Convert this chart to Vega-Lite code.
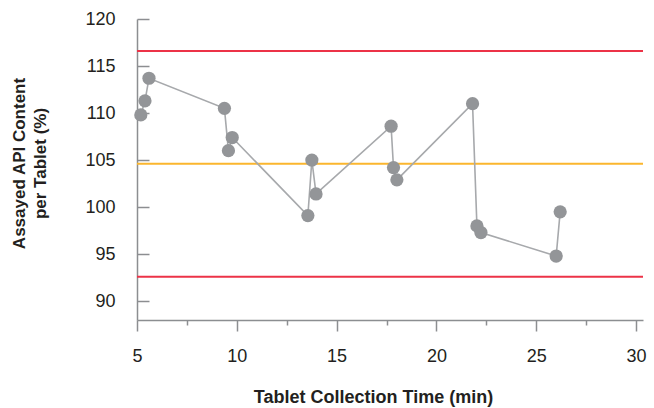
{
  "$schema": "https://vega.github.io/schema/vega-lite/v6.json",
  "width": 506,
  "height": 301,
  "autosize": "none",
  "padding": {"left": 137, "top": 19, "right": 11, "bottom": 88},
  "config": {
    "view": {"stroke": null},
    "font": "Liberation Sans",
    "axis": {
      "grid": false,
      "domainColor": "#8c8e91",
      "domainWidth": 1.5,
      "tickColor": "#8c8e91",
      "tickWidth": 1.5,
      "labelFont": "Liberation Sans",
      "labelFontSize": 18,
      "labelColor": "#231f20",
      "titleFont": "Liberation Sans",
      "titleFontWeight": "bold",
      "titleColor": "#231f20"
    }
  },
  "datasets": {
    "samples": [
      {"t": 5.19, "api": 109.8},
      {"t": 5.40, "api": 111.3},
      {"t": 5.60, "api": 113.7},
      {"t": 9.38, "api": 110.5},
      {"t": 9.58, "api": 106.0},
      {"t": 9.77, "api": 107.4},
      {"t": 13.56, "api": 99.1},
      {"t": 13.76, "api": 105.0},
      {"t": 13.97, "api": 101.4},
      {"t": 17.73, "api": 108.6},
      {"t": 17.85, "api": 104.2},
      {"t": 18.02, "api": 102.9},
      {"t": 21.81, "api": 111.0},
      {"t": 22.03, "api": 98.0},
      {"t": 22.23, "api": 97.3},
      {"t": 26.00, "api": 94.8},
      {"t": 26.20, "api": 99.5}
    ],
    "limits": [
      {"kind": "UCL", "value": 116.6},
      {"kind": "Mean", "value": 104.6},
      {"kind": "LCL", "value": 92.6}
    ]
  },
  "layer": [
    {
      "data": {"name": "limits"},
      "mark": {"type": "rule", "strokeWidth": 2},
      "encoding": {
        "y": {"field": "value", "type": "quantitative"},
        "color": {
          "field": "kind",
          "type": "nominal",
          "scale": {"domain": ["UCL", "Mean", "LCL"], "range": ["#ec3347", "#fbb62e", "#ec3347"]},
          "legend": null
        }
      }
    },
    {
      "data": {"name": "samples"},
      "mark": {"type": "line", "color": "#a7a9ac", "strokeWidth": 1.6},
      "encoding": {
        "x": {
          "field": "t",
          "type": "quantitative",
          "scale": {"domain": [5, 30.35], "nice": false, "zero": false},
          "axis": {
            "values": [5, 7.5, 10, 12.5, 15, 17.5, 20, 22.5, 25, 27.5, 30],
            "labelExpr": "datum.value % 5 === 0 ? datum.label : ''",
            "tickSize": {"condition": {"test": "datum.value % 5 === 0", "value": 11}, "value": 5},
            "labelPadding": 16,
            "labelFlush": false,
            "title": "Tablet Collection Time (min)",
            "titleFontSize": 18,
            "titleX": 236,
            "titleY": 77,
            "titleBaseline": "middle",
            "titleAnchor": null
          }
        },
        "y": {
          "field": "api",
          "type": "quantitative",
          "scale": {"domain": [88, 120], "nice": false, "zero": false},
          "axis": {
            "values": [90, 92.5, 95, 97.5, 100, 102.5, 105, 107.5, 110, 112.5, 115, 117.5, 120],
            "labelExpr": "datum.value % 5 === 0 ? datum.label : ''",
            "tickSize": {"condition": {"test": "datum.value % 5 === 0", "value": -12}, "value": -7},
            "labelPadding": 34,
            "labelFlush": false,
            "title": ["Assayed API Content", "per Tablet (%)"],
            "titleFontSize": 17,
            "titleLineHeight": 21,
            "titleX": -118,
            "titleY": 144,
            "titleAlign": "center",
            "titleBaseline": "middle",
            "titleAngle": -90
          }
        },
        "order": {"field": "t", "type": "quantitative"}
      }
    },
    {
      "data": {"name": "samples"},
      "mark": {"type": "circle", "size": 175, "color": "#939598", "opacity": 1},
      "encoding": {
        "x": {"field": "t", "type": "quantitative"},
        "y": {"field": "api", "type": "quantitative"}
      }
    }
  ]
}
